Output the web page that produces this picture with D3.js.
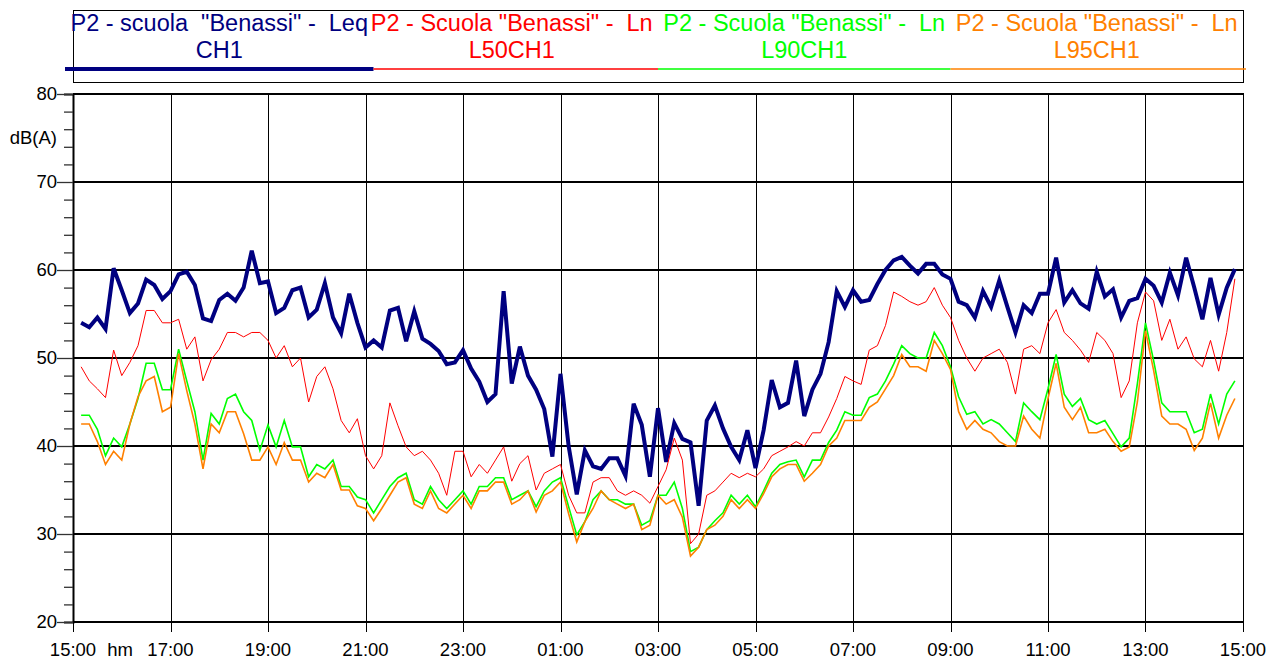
<!DOCTYPE html>
<html>
<head>
<meta charset="utf-8">
<script src="https://cdn.jsdelivr.net/npm/d3@7"></script>
<style>
  body { margin: 0; background: #fff; }
  text { font-family: "Liberation Sans", Arial, sans-serif; white-space: pre; }
</style>
</head>
<body>
<div id="chart"></div>
<script>
// legend labels (two lines each)
const legendLine1 = ['P2 - scuola  "Benassi" -  Leq', 'P2 - Scuola "Benassi" -  Ln', 'P2 - Scuola "Benassi" -  Ln', 'P2 - Scuola "Benassi" -  Ln'];
const legendLine2 = ["CH1", "L50CH1", "L90CH1", "L95CH1"];
const colors = ["#000080", "#ff0000", "#00ff00", "#ff8000"];
const strokeWidths = [4, 1, 1.6, 1.6];

// x tick labels, every 2 hours from 15:00
const xTickLabels = ["15:00", "17:00", "19:00", "21:00", "23:00", "01:00", "03:00", "05:00", "07:00", "09:00", "11:00", "13:00", "15:00"];
const yTicks = [20, 30, 40, 50, 60, 70, 80];

// 10 minute samples, first one at 15:10
const stepMinutes = 10;

const leq = [54.0, 53.5, 54.6, 53.3, 60.2, 57.7, 55.1, 56.2, 58.9, 58.3, 56.7, 57.6, 59.5, 59.8, 58.3, 54.5, 54.2,
  56.6, 57.3, 56.5, 58.0, 62.2, 58.5, 58.7, 55.1, 55.7, 57.7, 58.0, 54.6, 55.5, 58.5, 54.6, 52.8, 57.3, 54.0,
  51.2, 52.0, 51.2, 55.4, 55.7, 51.9, 55.3, 52.2, 51.6, 50.8, 49.3, 49.5, 50.9, 48.8, 47.3, 45.0, 45.9,
  57.6, 47.1, 51.3, 48.0, 46.4, 44.2, 38.8, 48.2, 40.0, 34.5, 39.5, 37.7, 37.4, 38.6, 38.6, 36.6, 44.8, 42.4,
  36.5, 44.3, 38.2, 42.6, 40.8, 40.4, 33.2, 42.9, 44.6, 42.0, 39.9, 38.4, 41.8, 37.5, 41.8, 47.5, 44.4, 44.9,
  49.7, 43.4, 46.4, 48.2, 51.8, 57.6, 55.8, 57.7, 56.4, 56.6, 58.4, 60.0, 61.1, 61.5, 60.5, 59.6, 60.7, 60.7,
  59.5, 59.0, 56.4, 56.0, 54.6, 57.6, 55.8, 58.8, 55.8, 52.9, 56.0, 55.1, 57.3, 57.3, 61.4, 56.3, 57.7,
  56.2, 55.6, 59.8, 57.0, 57.8, 54.6, 56.5, 56.8, 59.0, 58.2, 56.3, 59.7, 57.1, 61.4, 58.0, 54.4, 59.1, 54.9, 58.0, 60.1];

const l50 = [49.0, 47.4, 46.5, 45.5, 50.9, 48.0, 49.5, 51.4, 55.4, 55.4, 54.0, 54.0, 54.4, 51.0, 52.4, 47.4, 49.8,
  51.0, 52.9, 52.9, 52.4, 52.9, 52.9, 52.0, 50.0, 51.4, 49.0, 50.0, 45.0, 47.9, 49.0, 46.5, 42.9, 41.5, 43.1,
  38.9, 37.4, 38.9, 44.9, 42.3, 39.9, 38.9, 39.4, 38.4, 36.9, 34.4, 39.4, 39.4, 36.5, 37.9, 36.9, 38.4,
  39.9, 36.0, 38.0, 38.9, 35.0, 36.9, 37.4, 37.9, 34.4, 32.4, 32.4, 35.9, 36.4, 36.4, 34.9, 34.4, 34.9, 34.4,
  33.5, 35.4, 37.3, 40.9, 38.4, 28.9, 30.0, 34.4, 34.9, 35.9, 36.9, 36.4, 36.9, 36.5, 37.4, 38.9, 39.4, 39.9,
  40.5, 40.0, 41.5, 41.5, 43.3, 45.4, 47.9, 47.4, 47.0, 50.9, 51.4, 53.7, 57.5, 57.0, 56.4, 56.0, 56.4, 58.0,
  56.0, 54.6, 52.0, 50.0, 48.5, 50.0, 50.5, 51.0, 49.5, 45.9, 51.0, 51.4, 50.5, 54.0, 55.5, 52.9, 52.0,
  50.9, 49.5, 52.9, 52.0, 50.5, 45.5, 47.4, 54.0, 57.5, 56.5, 52.0, 54.4, 51.0, 52.4, 49.9, 49.0, 52.0, 48.5, 52.9, 59.0];

const l90 = [43.5, 43.5, 41.9, 38.9, 40.9, 39.9, 42.5, 45.4, 49.4, 49.4, 46.4, 46.4, 51.0, 47.4, 43.9, 38.4, 43.7,
  42.5, 45.4, 45.9, 43.9, 42.9, 39.5, 42.4, 39.9, 42.9, 39.9, 39.9, 36.5, 37.9, 37.4, 38.4, 35.4, 35.4, 34.2,
  33.9, 32.4, 33.9, 35.4, 36.4, 36.9, 33.9, 33.4, 35.4, 33.9, 32.9, 33.9, 34.9, 33.4, 35.4, 35.4, 36.4,
  36.4, 33.9, 34.4, 34.9, 33.1, 34.9, 35.9, 36.4, 33.1, 29.9, 31.4, 33.9, 34.9, 33.9, 33.9, 33.4, 33.4, 31.0,
  31.5, 34.4, 34.4, 35.9, 32.9, 28.0, 28.5, 30.5, 31.5, 32.4, 34.4, 33.4, 34.4, 33.1, 34.9, 36.9, 37.9, 38.2,
  38.4, 36.5, 38.4, 38.4, 40.4, 41.8, 43.9, 43.5, 43.5, 45.5, 45.9, 47.4, 49.3, 51.4, 50.5, 50.0, 50.0, 52.9,
  51.4, 49.0, 45.6, 43.6, 43.9, 42.5, 43.0, 42.5, 41.5, 40.5, 44.9, 43.9, 43.0, 46.5, 50.4, 45.9, 44.5,
  45.4, 43.0, 42.5, 42.9, 41.4, 39.9, 40.9, 47.1, 54.0, 49.7, 44.9, 43.9, 43.9, 43.9, 41.5, 41.9, 45.9, 42.5, 45.9, 47.4];

const l95 = [42.5, 42.5, 40.5, 37.9, 39.4, 38.4, 42.5, 45.6, 47.4, 47.9, 43.9, 44.4, 50.5, 46.3, 42.5, 37.4, 42.5,
  41.5, 43.9, 43.9, 41.4, 38.4, 38.4, 39.9, 37.9, 40.4, 38.4, 38.4, 35.9, 36.9, 36.4, 37.9, 35.0, 35.0, 33.2,
  32.9, 31.5, 32.9, 34.4, 35.9, 36.4, 33.4, 32.9, 34.9, 32.9, 32.4, 33.4, 34.4, 32.9, 34.9, 34.9, 35.9,
  35.9, 33.4, 33.9, 34.9, 32.5, 34.4, 34.9, 35.9, 32.3, 29.1, 31.4, 32.9, 34.9, 33.9, 33.4, 32.9, 33.4, 30.5,
  31.0, 34.4, 33.4, 33.9, 31.9, 27.5, 28.5, 30.5, 31.0, 32.0, 33.9, 32.9, 33.9, 32.9, 34.6, 36.5, 37.4, 37.9,
  37.9, 36.0, 36.9, 37.9, 40.0, 40.9, 42.9, 42.9, 42.9, 44.4, 45.0, 46.5, 48.0, 50.4, 49.0, 49.0, 48.5, 52.0,
  50.5, 48.7, 43.9, 41.9, 42.9, 41.9, 41.5, 40.5, 40.0, 40.0, 43.4, 41.9, 40.9, 45.4, 49.4, 44.4, 43.0,
  44.4, 41.5, 41.5, 41.9, 40.5, 39.4, 39.9, 45.0, 53.1, 48.6, 43.4, 42.5, 42.5, 41.9, 39.5, 40.9, 44.9, 40.9, 43.5, 45.4];

const series = [leq, l50, l90, l95];

const width = 1281, height = 659;
const margin = { top: 94, right: 38, bottom: 37, left: 73 };

const svg = d3.select("#chart").append("svg")
  .attr("width", width)
  .attr("height", height);

const x = d3.scaleLinear().domain([0, 24 * 60]).range([margin.left, width - margin.right]);
const y = d3.scaleLinear().domain([20, 80]).range([height - margin.bottom, margin.top]);

//legend box
const legendTop = 10, legendBottom = 82;
svg.append("rect")
  .attr("x", x(0) + 0.5).attr("y", legendTop + 0.5)
  .attr("width", x(1440) - x(0)).attr("height", legendBottom - legendTop)
  .attr("fill", "none").attr("stroke", "#000").attr("stroke-width", 1);

const colW = (x(1440) - x(0)) / 4;
const legend = svg.append("g");
series.forEach(function (s, i) {
  const x0 = x(0) + colW * i;
  legend.append("line")
    .attr("x1", i === 0 ? x0 - 8 : (i === 1 ? x0 + 8 : x0))
    .attr("x2", i === 3 ? x0 + colW + 3 : (i === 0 ? x0 + colW + 8 : x0 + colW))
    .attr("y1", 69).attr("y2", 69)
    .attr("stroke", colors[i])
    .attr("stroke-width", i === 0 ? 4 : 1.3);
});
series.forEach(function (s, i) {
  const cx = x(0) + colW * (i + 0.5);
  legend.append("text")
    .attr("x", cx).attr("y", 31)
    .attr("text-anchor", "middle")
    .attr("font-size", 23.5)
    .attr("fill", colors[i])
    .text(legendLine1[i]);
  legend.append("text")
    .attr("x", cx).attr("y", 58)
    .attr("text-anchor", "middle")
    .attr("font-size", 23.5)
    .attr("fill", colors[i])
    .text(legendLine2[i]);
});

// vertical grid every 2 hours
const xTickVals = xTickLabels.map(function (d, i) { return i * 120; });
svg.append("g")
  .selectAll("line")
  .data(xTickVals)
  .enter()
  .append("line")
  .attr("x1", function (d) { return Math.round(x(d)) + 0.5; })
  .attr("x2", function (d) { return Math.round(x(d)) + 0.5; })
  .attr("y1", y(80))
  .attr("y2", y(20) + 10)
  .attr("stroke", "#000")
  .attr("stroke-width", 1);

// horizontal grid
svg.append("g")
  .selectAll("line")
  .data(yTicks)
  .enter()
  .append("line")
  .attr("x1", x(0))
  .attr("x2", x(1440) + 1)
  .attr("y1", function (d) { return y(d); })
  .attr("y2", function (d) { return y(d); })
  .attr("stroke", "#000")
  .attr("stroke-width", 2);

// right frame
svg.append("line")
  .attr("x1", x(1440) + 0.5).attr("x2", x(1440) + 0.5)
  .attr("y1", y(80)).attr("y2", y(20))
  .attr("stroke", "#000").attr("stroke-width", 1);

// y axis with minor ticks
const yAxis = d3.axisLeft(y)
  .tickValues(d3.range(20, 81, 2))
  .tickSize(9)
  .tickFormat("");
const gy = svg.append("g")
  .attr("transform", "translate(" + x(0) + ",0)")
  .call(yAxis);
gy.select(".domain").attr("stroke", "#000").attr("stroke-width", 2);
gy.selectAll(".tick line").attr("stroke", "#333").attr("stroke-width", 1.3);
gy.selectAll(".tick")
  .filter(function (d) { return d % 10 === 0; })
  .select("line")
  .attr("x2", -16);

svg.append("g")
  .selectAll("text")
  .data(yTicks)
  .enter()
  .append("text")
  .attr("x", x(0) - 16)
  .attr("y", function (d) { return y(d) + 6; })
  .attr("text-anchor", "end")
  .attr("font-size", 18.5)
  .attr("fill", "#000")
  .text(function (d) { return d; });

svg.append("text")
  .attr("x", 57).attr("y", 144)
  .attr("text-anchor", "end")
  .attr("font-size", 18.5)
  .text("dB(A)");

// x tick labels
svg.append("g")
  .selectAll("text")
  .data(xTickLabels)
  .enter()
  .append("text")
  .attr("x", function (d, i) { return x(xTickVals[i]); })
  .attr("y", 656)
  .attr("text-anchor", "middle")
  .attr("font-size", 18.5)
  .text(function (d) { return d; });

svg.append("text")
  .attr("x", x(58)).attr("y", 656)
  .attr("text-anchor", "middle")
  .attr("font-size", 18.5)
  .text("hm");

// data lines
const line = d3.line()
  .x(function (d, i) { return x((i + 1) * stepMinutes); })
  .y(function (d) { return y(d); });

series.forEach(function (s, i) {
  svg.append("path")
    .datum(s)
    .attr("fill", "none")
    .attr("stroke", colors[i])
    .attr("stroke-width", strokeWidths[i])
    .attr("stroke-linejoin", "miter")
    .attr("d", line);
});
</script>
</body>
</html>
